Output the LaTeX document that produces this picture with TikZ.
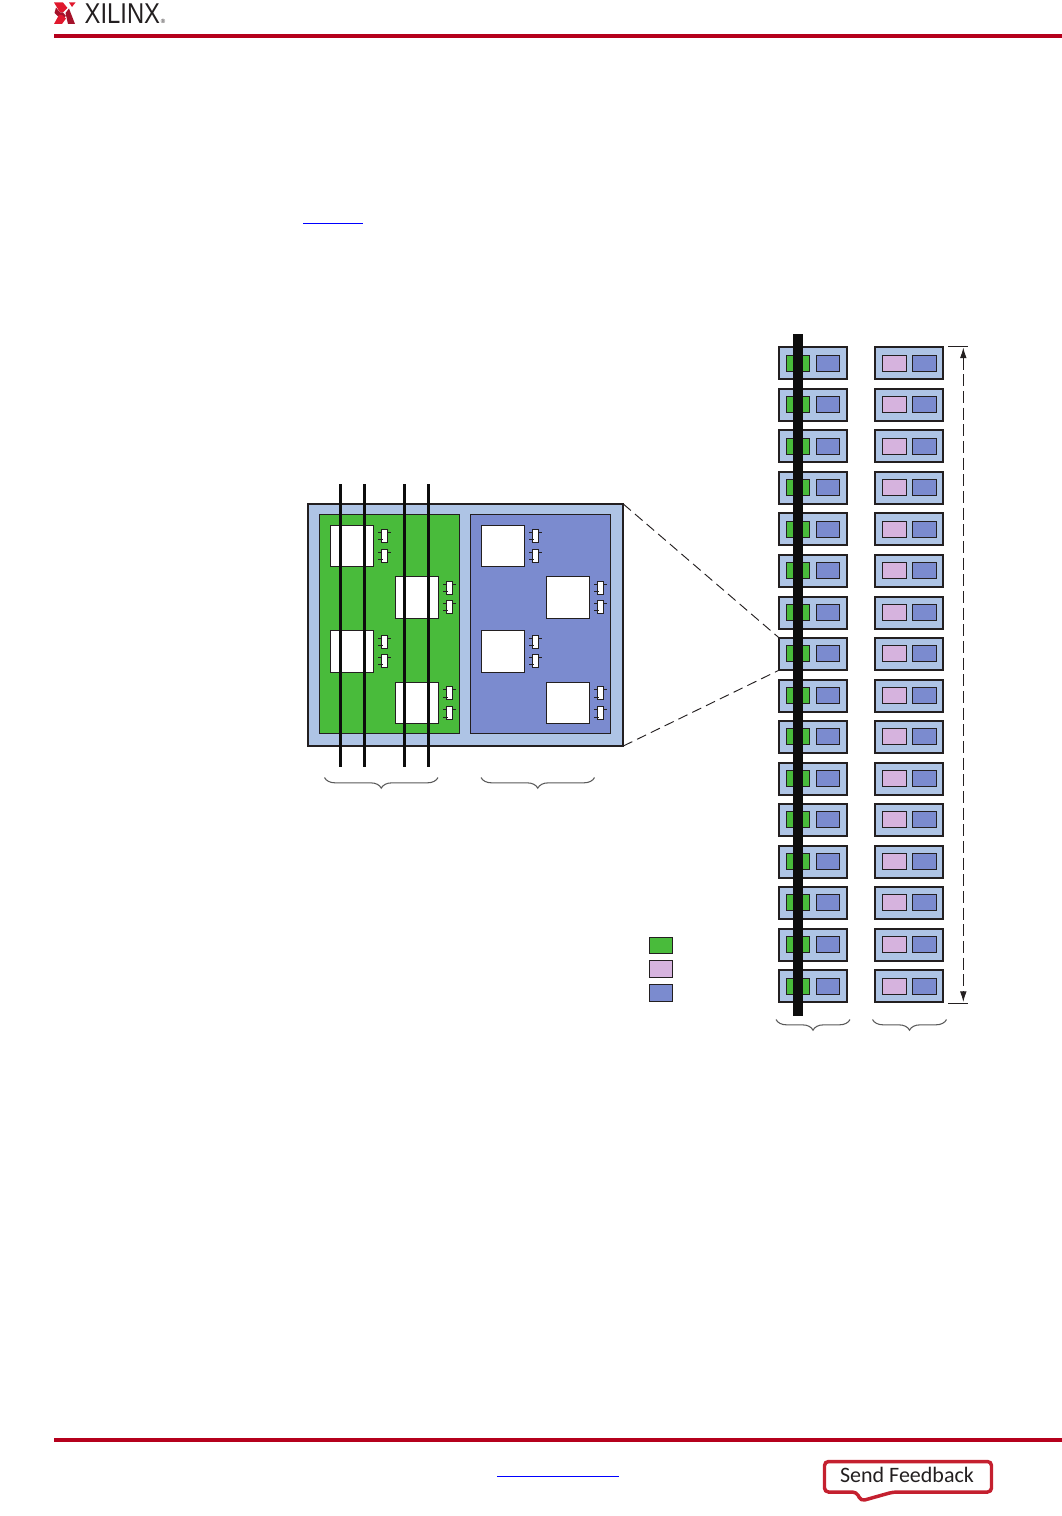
\documentclass[tikz,border=0pt]{standalone}
\usepackage{fontspec}
\setmainfont{Carlito}
\newfontfamily\logofont{Liberation Sans}
\usetikzlibrary{calc,arrows.meta,decorations.pathreplacing}
\definecolor{clbblue}{HTML}{AEC4E5}
\definecolor{slicegreen}{HTML}{49BB3B}
\definecolor{sliceblue}{HTML}{7B8BCF}
\definecolor{slicepurple}{HTML}{D6B3DE}
\definecolor{hdrred}{HTML}{B5001C}
\definecolor{logored}{HTML}{E0182D}
\definecolor{logodark}{HTML}{A5122A}
\definecolor{sendred}{HTML}{C4202F}
\definecolor{nearblack}{HTML}{231F20}
\tikzset{
  blk/.style={draw=nearblack, line width=0.75pt, anchor=north west, inner sep=0pt, outer sep=0pt},
  clbbox/.style={blk, fill=clbblue, line width=1.5pt, minimum width=67.6*0.75pt, minimum height=32*0.75pt},
  slicebox/.style={blk, minimum height=16*0.75pt},
  lutbox/.style={blk, fill=white, minimum width=43.4*0.75pt},
  ffbox/.style={blk, fill=white, minimum width=6.4*0.75pt, minimum height=12.8*0.75pt},
  stub/.style={draw=nearblack, line width=0.6pt},
  carry/.style={draw=black!95, line width=2pt},
  zoomline/.style={draw=nearblack, line width=0.7pt, dash pattern=on 7.5pt off 4pt},
  groupbrace/.style={draw=black!65, line width=0.8pt, decorate, decoration={brace, amplitude=8pt, mirror}},
  rule/.style={draw=hdrred, line width=2.6pt},
  bluelink/.style={draw=blue, line width=0.7pt}
}
\begin{document}
\begin{tikzpicture}[x=0.75pt, y=-0.75pt]
\useasboundingbox (0,0) rectangle (1062,1516);

% --- Page header and footer ---
\coordinate (hdrL) at (54,36);
\coordinate (hdrR) at (1062,36);
\coordinate (ftrL) at (54,1440);
\coordinate (ftrR) at (1062,1440);
\draw[rule] (hdrL) -- (hdrR);
\draw[rule] (ftrL) -- (ftrR);
\fill[logored] (54,2.5) -- (63,2.5) -- (67.5,8) -- (63,12.5) -- (60,12.5) -- cycle;
\fill[logodark] (56,7.5) -- (60,12.5) -- (63,12.5) -- (66,16) -- (62,20) -- (54.5,13) -- cycle;
\fill[logored] (54,24) -- (62,24) -- (66,18.5) -- (62,15) -- (59,15) -- cycle;
\fill[logored] (69,2.5) -- (75.5,2.5) -- (72,7) -- cycle;
\fill[logodark] (69,8.5) -- (75,24) -- (68,24) -- (65.5,13) -- cycle;
\node[anchor=west, inner sep=0pt, text=nearblack, font=\logofont\fontsize{21.5pt}{21.5pt}\selectfont, xscale=0.83] (logotext) at (84.5,13.5) {XILINX};
\node[anchor=west, inner sep=0pt, text=nearblack, font=\logofont\fontsize{4.5pt}{4.5pt}\selectfont] (logoreg) at (160.5,21) {®};

% --- Short underlines ---
\coordinate (ulA) at (303,223);
\coordinate (ulB) at (363,223);
\draw[bluelink] (ulA) -- (ulB);
\coordinate (linkA) at (497,1476.5);
\coordinate (linkB) at (619,1476.5);
\draw[bluelink] (linkA) -- (linkB);

% --- Enlarged CLB ---
\node[blk, fill=clbblue, line width=1.5pt, minimum width=315.6*0.75pt, minimum height=242*0.75pt] (clbbig) at (307.7,504) {};
\node[blk, fill=slicegreen, minimum width=140.4*0.75pt, minimum height=219*0.75pt] (bigg) at (319.3,514.3) {};
\node[blk, fill=sliceblue, minimum width=140.4*0.75pt, minimum height=219*0.75pt] (bigb) at (470.3,514.3) {};
\foreach \lut/\x/\y/\h/\ffa/\ffb in {
  ga/330.3/525.3/41.4/4/24, gb/395.3/576.3/42.4/5/24, gc/330.3/630.3/42.4/5/24, gd/395.3/682.3/41.4/4.5/24.5,
  ba/481.3/525.3/41.4/4/24, bb/546.3/576.3/42.4/5/24, bc/481.3/630.3/42.4/5/24, bd/546.3/682.3/41.4/4.5/24.5} {
  \node[lutbox, minimum height=\h*0.75pt] (\lut) at (\x,\y) {};
  \foreach \m/\dy in {p/\ffa, q/\ffb} {
    \node[ffbox] (\lut\m) at ($(\lut.north east)+(7.6,\dy)$) {};
    \draw[stub] ($(\lut\m.north west)+(-3.3,3)$) -- ++(3.3,0);
    \draw[stub] ($(\lut\m.north west)+(-3.3,10.3)$) -- ++(5,0);
    \draw[stub] ($(\lut\m.north east)+(0,3)$) -- ++(3.3,0);
  }
}

% --- Thin black lines over the green slice ---
\foreach \i/\x in {1/340.3, 2/364.3, 3/404.3, 4/428.3} {
  \coordinate (lnT\i) at (\x,484);
  \coordinate (lnB\i) at (\x,766.7);
  \draw[carry] (lnT\i) -- (lnB\i);
}

% --- Braces under the enlarged CLB ---
\coordinate (brAl) at (324.5,777.5);
\coordinate (brAr) at (438,777.5);
\coordinate (brBl) at (481,777.5);
\coordinate (brBr) at (594.5,777.5);
\draw[groupbrace] (brAl) -- (brAr);
\draw[groupbrace] (brBl) -- (brBr);

% --- Two columns of CLBs ---
\foreach \r [evaluate=\r as \y using {346.7+(\r-1)*41.52}] in {1,...,16} {
  \node[clbbox] (la\r) at (779.3,\y+0.7) {};
  \node[slicebox, fill=slicegreen, minimum width=23.4*0.75pt] (lg\r) at (786.3,\y+8.5) {};
  \node[slicebox, fill=sliceblue, minimum width=23.4*0.75pt] (lb\r) at (816.3,\y+8.5) {};
  \node[clbbox, minimum width=68*0.75pt] (ra\r) at (875.3,\y+0.7) {};
  \node[slicebox, fill=slicepurple, minimum width=24.4*0.75pt] (rp\r) at (882.3,\y+8.5) {};
  \node[slicebox, fill=sliceblue, minimum width=24.4*0.75pt] (rb\r) at (912.3,\y+8.5) {};
}

% --- Thick bar over the left column ---
\coordinate (barT) at (798,334);
\coordinate (barB) at (798,1016);
\draw[draw=black!95, line width=7.5pt] (barT) -- (barB);

% --- Zoom lines ---
\draw[zoomline] (clbbig.north east) -- (la8.north west);
\draw[zoomline] (clbbig.south east) -- (la8.south west);

% --- Height arrow ---
\coordinate (tkTl) at (948,346.5);
\coordinate (tkTr) at (968,346.5);
\coordinate (tkBl) at (948,1003);
\coordinate (tkBr) at (968,1003);
\coordinate (htT) at (963.3,347.5);
\coordinate (htB) at (963.3,1002);
\draw[nearblack, line width=0.6pt] (tkTl) -- (tkTr);
\draw[nearblack, line width=0.6pt] (tkBl) -- (tkBr);
\draw[nearblack, line width=0.7pt, dash pattern=on 9pt off 3.5pt, {Latex[length=8pt,width=5pt]}-{Latex[length=8pt,width=5pt]}] (htT) -- (htB);

% --- Braces under the columns ---
\coordinate (brCl) at (776,1019.5);
\coordinate (brCr) at (850,1019.5);
\coordinate (brDl) at (872.5,1019.5);
\coordinate (brDr) at (946.5,1019.5);
\draw[groupbrace] (brCl) -- (brCr);
\draw[groupbrace] (brDl) -- (brDr);

% --- Legend swatches ---
\node[blk, fill=slicegreen, minimum width=23.4*0.75pt, minimum height=16.4*0.75pt] (keyg) at (649.3,937.3) {};
\node[blk, fill=slicepurple, minimum width=23.4*0.75pt, minimum height=17.4*0.75pt] (keyp) at (649.3,960.3) {};
\node[blk, fill=sliceblue, minimum width=23.4*0.75pt, minimum height=17.4*0.75pt] (keyb) at (649.3,984.3) {};

% --- Send Feedback button ---
\draw[draw=sendred, line width=2.6pt, rounded corners=3pt, fill=white] (824.5,1461.5) -- (991.5,1461.5) -- (991.5,1492) -- (893,1492) -- (861,1501) -- (856.5,1492) -- (824.5,1492) -- cycle;
\node[inner sep=0pt, text=nearblack, font=\fontsize{16.5pt}{16.5pt}\selectfont] (sendfb) at (907,1475) {Send Feedback};

\end{tikzpicture}
\end{document}
